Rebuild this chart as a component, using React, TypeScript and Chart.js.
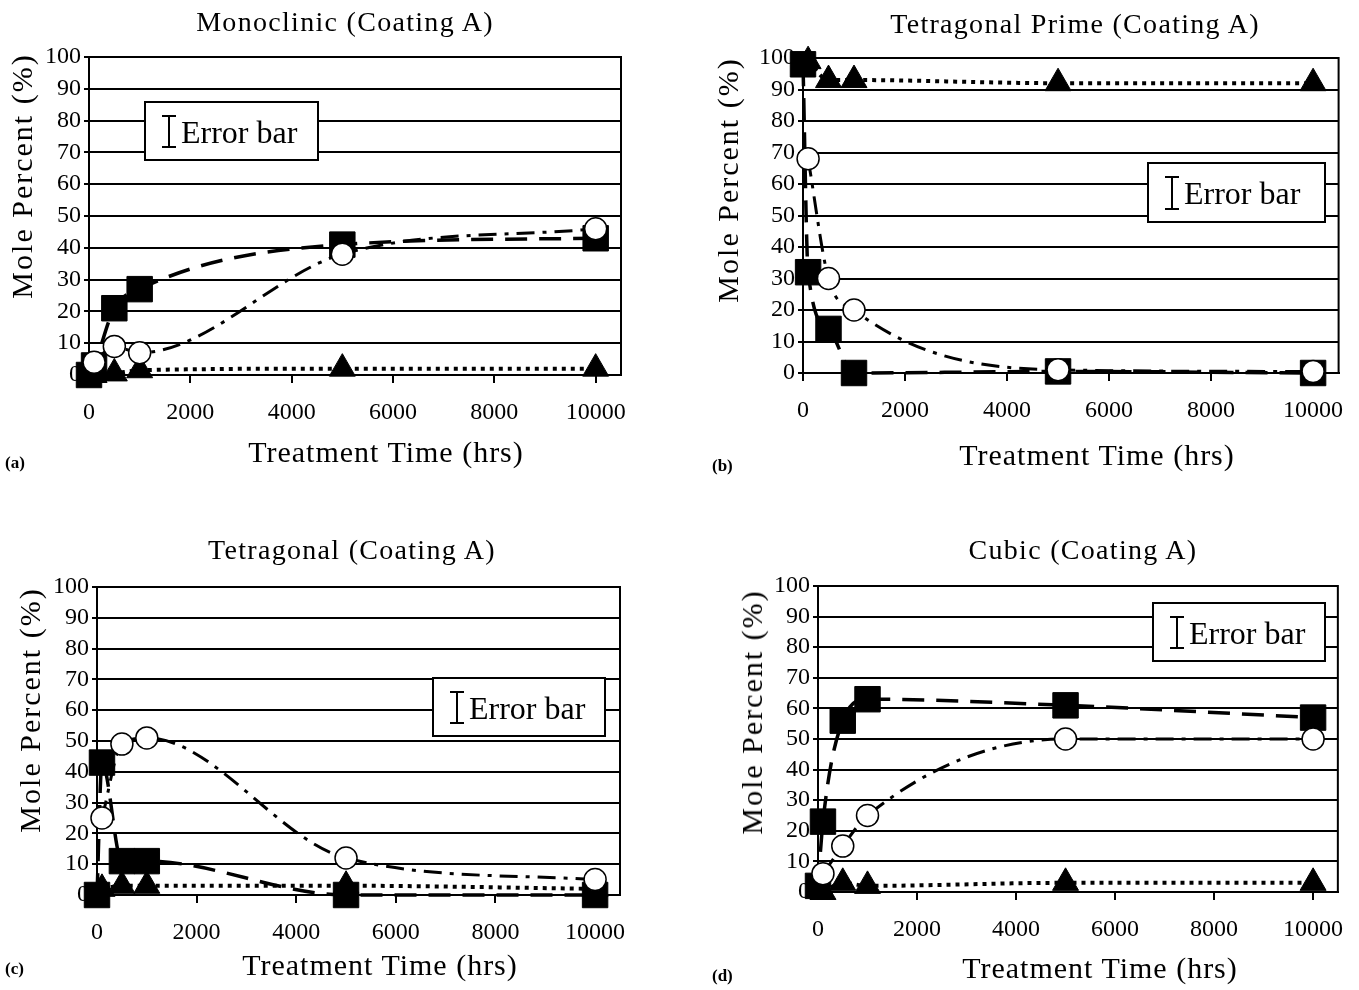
import React, { useEffect, useRef } from 'react';
import { Chart, registerables } from 'chart.js';

Chart.register(...registerables);

// ---------- shared axes ----------
const xTickValues = [0, 2000, 4000, 6000, 8000, 10000];
const yTickValues = [0, 10, 20, 30, 40, 50, 60, 70, 80, 90, 100];
const xMax = 10500;

// ---------- (a) Monoclinic ----------
const monoSquareHours = [0, 100, 500, 1000, 5000, 10000];
const monoSquare = [0, 3, 21, 27, 41, 43];
const monoCircleHours = [100, 500, 1000, 5000, 10000];
const monoCircle = [4, 9, 7, 38, 46];
const monoTriangleHours = [100, 500, 1000, 5000, 10000];
const monoTriangle = [0, 0.5, 1.5, 2, 2];

// ---------- (b) Tetragonal Prime ----------
const primeSquareHours = [0, 100, 500, 1000, 5000, 10000];
const primeSquare = [98, 32, 14, 0, 0.5, 0];
const primeCircleHours = [100, 500, 1000, 5000, 10000];
const primeCircle = [68, 30, 20, 1, 0.5];
const primeTriangleHours = [100, 500, 1000, 5000, 10000];
const primeTriangle = [99, 93, 93, 92, 92];

// ---------- (c) Tetragonal ----------
const tetSquareHours = [0, 100, 500, 1000, 5000, 10000];
const tetSquare = [0, 43, 11, 11, 0, 0];
const tetCircleHours = [100, 500, 1000, 5000, 10000];
const tetCircle = [25, 49, 51, 12, 5];
const tetTriangleHours = [100, 500, 1000, 5000, 10000];
const tetTriangle = [2, 3, 3, 3, 2];

// ---------- (d) Cubic ----------
const cubicSquareHours = [0, 100, 500, 1000, 5000, 10000];
const cubicSquare = [2, 23, 56, 63, 61, 57];
const cubicCircleHours = [100, 500, 1000, 5000, 10000];
const cubicCircle = [6, 15, 25, 50, 50];
const cubicTriangleHours = [100, 500, 1000, 5000, 10000];
const cubicTriangle = [0, 3, 2, 3, 3];

const panelTitles = [
  'Monoclinic (Coating A)',
  'Tetragonal Prime (Coating A)',
  'Tetragonal (Coating A)',
  'Cubic (Coating A)',
];
const panelLabels = ['(a)', '(b)', '(c)', '(d)'];
const xAxisTitle = 'Treatment Time (hrs)';
const yAxisTitle = 'Mole Percent (%)';
const errorBarText = 'Error bar';

const SERIF = '"Liberation Serif", "Times New Roman", serif';

type Layout = {
  frame: [number, number, number, number]; // left, top, width, height (page px)
  area: [number, number, number, number]; // L, T, R, B (page px)
  titlePos: [number, number];
  xTitlePos: [number, number];
  yTitlePos: [number, number];
  labelPos: [number, number];
  box: [number, number, number, number]; // page px
};

const layouts: Layout[] = [
  {
    frame: [0, 0, 679, 495],
    area: [89, 57, 621, 375],
    titlePos: [345, 22],
    xTitlePos: [386, 452],
    yTitlePos: [22, 176],
    labelPos: [5, 462],
    box: [145, 102, 173, 58],
  },
  {
    frame: [690, 0, 669, 495],
    area: [803, 58, 1343, 373],
    titlePos: [1075, 24],
    xTitlePos: [1097, 455],
    yTitlePos: [728, 180],
    labelPos: [712, 465],
    box: [1148, 163, 177, 59],
  },
  {
    frame: [0, 495, 679, 495],
    area: [97, 587, 620, 895],
    titlePos: [352, 550],
    xTitlePos: [380, 965],
    yTitlePos: [30, 710],
    labelPos: [5, 968],
    box: [433, 678, 172, 58],
  },
  {
    frame: [690, 495, 669, 495],
    area: [818, 586, 1343, 892],
    titlePos: [1083, 550],
    xTitlePos: [1100, 968],
    yTitlePos: [752, 712],
    labelPos: [712, 975],
    box: [1153, 603, 172, 58],
  },
];

const seriesSets = [
  { sqT: monoSquareHours, sq: monoSquare, ciT: monoCircleHours, ci: monoCircle, trT: monoTriangleHours, tr: monoTriangle },
  { sqT: primeSquareHours, sq: primeSquare, ciT: primeCircleHours, ci: primeCircle, trT: primeTriangleHours, tr: primeTriangle },
  { sqT: tetSquareHours, sq: tetSquare, ciT: tetCircleHours, ci: tetCircle, trT: tetTriangleHours, tr: tetTriangle },
  { sqT: cubicSquareHours, sq: cubicSquare, ciT: cubicCircleHours, ci: cubicCircle, trT: cubicTriangleHours, tr: cubicTriangle },
];

const toPoints = (xs: number[], ys: number[]) => xs.map((x, i) => ({ x, y: ys[i] }));

const framePlugin = {
  id: 'frameAndBox',
  beforeDatasetsDraw(chart: any) {
    const { ctx, chartArea } = chart;
    ctx.save();
    ctx.strokeStyle = '#000';
    ctx.lineWidth = 2;
    ctx.beginPath();
    ctx.moveTo(chartArea.left, chartArea.top);
    ctx.lineTo(chartArea.right, chartArea.top);
    ctx.lineTo(chartArea.right, chartArea.bottom);
    ctx.stroke();
    ctx.restore();
  },
  afterDraw(chart: any, _args: any, opts: any) {
    const { ctx } = chart;
    const [bx, by, bw, bh] = opts.box;
    ctx.save();
    ctx.fillStyle = '#fff';
    ctx.fillRect(bx, by, bw, bh);
    ctx.strokeStyle = '#000';
    ctx.lineWidth = 2;
    ctx.strokeRect(bx, by, bw, bh);
    // error bar glyph
    const gx = bx + 24;
    const gy1 = by + 14;
    const gy2 = by + bh - 13;
    ctx.lineWidth = 2;
    ctx.beginPath();
    ctx.moveTo(gx, gy1);
    ctx.lineTo(gx, gy2);
    ctx.moveTo(gx - 7, gy1);
    ctx.lineTo(gx + 7, gy1);
    ctx.moveTo(gx - 7, gy2);
    ctx.lineTo(gx + 7, gy2);
    ctx.stroke();
    ctx.fillStyle = '#000';
    ctx.font = `32px ${SERIF}`;
    ctx.textBaseline = 'alphabetic';
    ctx.textAlign = 'left';
    ctx.fillText(opts.text, bx + 36, by + 41);
    ctx.restore();
  },
};

function Panel({ index }: { index: number }) {
  const ref = useRef<HTMLCanvasElement | null>(null);
  const lay = layouts[index];
  const s = seriesSets[index];
  useEffect(() => {
    if (!ref.current) return;
    const [fl, ft, fw, fh] = lay.frame;
    const [L, T, R, B] = lay.area;
    const yAxisWidth = L - fl;
    const xAxisHeight = ft + fh - B;
    const box = [lay.box[0] - fl, lay.box[1] - ft, lay.box[2], lay.box[3]];
    const chart = new Chart(ref.current, {
      type: 'line',
      data: {
        datasets: [
          {
            label: 'circle',
            data: toPoints(s.ciT, s.ci),
            borderColor: '#000',
            borderWidth: 3,
            borderDash: [18, 8, 4, 8],
            pointStyle: 'circle',
            pointRadius: 11,
            pointBackgroundColor: '#fff',
            pointBorderColor: '#000',
            pointBorderWidth: 1.5,
            cubicInterpolationMode: 'monotone',
            clip: false,
            fill: false,
          },
          {
            label: 'triangle',
            data: toPoints(s.trT, s.tr),
            borderColor: '#000',
            borderWidth: 4,
            borderDash: [4, 5],
            pointStyle: 'triangle',
            pointRadius: 15,
            pointBackgroundColor: '#000',
            pointBorderColor: '#000',
            pointBorderWidth: 1,
            cubicInterpolationMode: 'monotone',
            clip: false,
            fill: false,
          },
          {
            label: 'square',
            data: toPoints(s.sqT, s.sq),
            borderColor: '#000',
            borderWidth: 3.5,
            borderDash: [22, 12],
            pointStyle: 'rect',
            pointRadius: 18,
            pointBackgroundColor: '#000',
            pointBorderColor: '#000',
            pointBorderWidth: 1,
            cubicInterpolationMode: 'monotone',
            clip: false,
            fill: false,
          },
        ],
      },
      options: {
        animation: false,
        responsive: false,
        maintainAspectRatio: false,
        layout: {
          padding: { left: 0, top: T - ft, right: fl + fw - R, bottom: 0 },
        },
        plugins: {
          legend: { display: false },
          tooltip: { enabled: false },
          title: { display: false },
          frameAndBox: { box, text: errorBarText },
        } as any,
        scales: {
          x: {
            type: 'linear',
            min: 0,
            max: xMax,
            afterBuildTicks: (scale: any) => {
              scale.ticks = xTickValues.map((v) => ({ value: v }));
            },
            afterFit: (scale: any) => {
              scale.height = xAxisHeight;
            },
            ticks: {
              color: '#000',
              font: { family: SERIF, size: 24 },
              padding: 15,
              maxRotation: 0,
              autoSkip: false,
              callback: (v: any) => String(v),
            },
            grid: {
              drawOnChartArea: false,
              drawTicks: true,
              tickLength: 8,
              color: '#000',
              lineWidth: 2,
            },
            border: { display: true, color: '#000', width: 2 },
          },
          y: {
            type: 'linear',
            min: 0,
            max: 100,
            afterBuildTicks: (scale: any) => {
              scale.ticks = yTickValues.map((v) => ({ value: v }));
            },
            afterFit: (scale: any) => {
              scale.width = yAxisWidth;
            },
            ticks: {
              color: '#000',
              font: { family: SERIF, size: 24 },
              padding: 3,
              autoSkip: false,
              callback: (v: any) => String(v),
            },
            grid: {
              color: '#000',
              lineWidth: 2,
              drawTicks: true,
              tickLength: 5,
            },
            border: { display: true, color: '#000', width: 2 },
          },
        },
      },
      plugins: [framePlugin],
    } as any);
    return () => chart.destroy();
  }, []);

  const [fl, ft, fw, fh] = lay.frame;
  const textBase: React.CSSProperties = {
    position: 'absolute',
    whiteSpace: 'nowrap',
    fontFamily: SERIF,
    color: '#000',
    lineHeight: 1,
  };
  return (
    <>
      <canvas
        ref={ref}
        width={fw}
        height={fh}
        style={{ position: 'absolute', left: fl, top: ft, width: fw, height: fh }}
      />
      <div
        style={{
          ...textBase,
          left: lay.titlePos[0],
          top: lay.titlePos[1],
          transform: 'translate(-50%, -50%)',
          fontSize: 28,
          letterSpacing: 1.3,
        }}
      >
        {panelTitles[index]}
      </div>
      <div
        style={{
          ...textBase,
          left: lay.xTitlePos[0],
          top: lay.xTitlePos[1],
          transform: 'translate(-50%, -50%)',
          fontSize: 30,
          letterSpacing: 1,
        }}
      >
        {xAxisTitle}
      </div>
      <div
        style={{
          ...textBase,
          left: lay.yTitlePos[0],
          top: lay.yTitlePos[1],
          transform: 'translate(-50%, -50%) rotate(-90deg)',
          fontSize: 30,
          letterSpacing: 2,
        }}
      >
        {yAxisTitle}
      </div>
      <div
        style={{
          ...textBase,
          left: lay.labelPos[0],
          top: lay.labelPos[1],
          transform: 'translateY(-50%)',
          fontSize: 17,
          fontWeight: 'bold',
        }}
      >
        {panelLabels[index]}
      </div>
    </>
  );
}

export default function App() {
  return (
    <div
      style={{
        position: 'absolute',
        left: 0,
        top: 0,
        width: 1359,
        height: 990,
        background: '#fff',
        overflow: 'hidden',
      }}
    >
      {[0, 1, 2, 3].map((i) => (
        <Panel key={i} index={i} />
      ))}
    </div>
  );
}
